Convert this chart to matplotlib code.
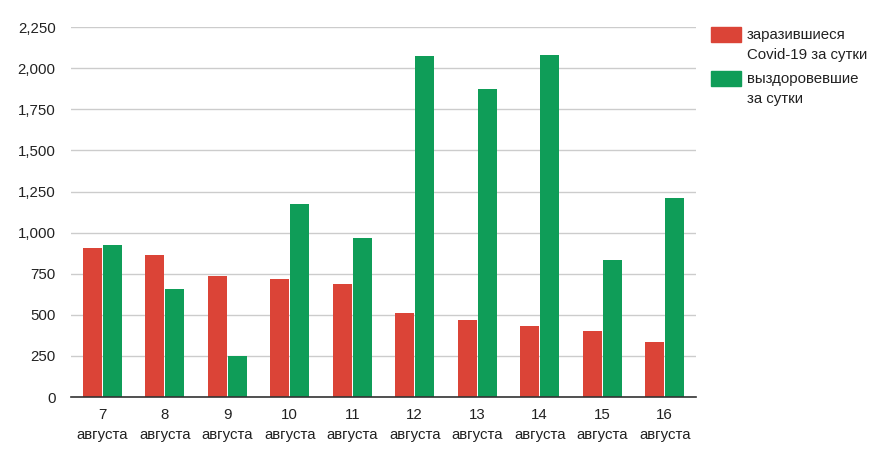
import matplotlib
matplotlib.use("Agg")
import matplotlib.pyplot as plt
from matplotlib.patches import Rectangle
from matplotlib.ticker import FuncFormatter
import numpy as np

plt.rcParams['font.family'] = ['Liberation Sans', 'DejaVu Sans']

days = ['7', '8', '9', '10', '11', '12', '13', '14', '15', '16']
infected = [904, 866, 738, 720, 689, 513, 470, 434, 403, 332]
recovered = [926, 659, 247, 1176, 969, 2076, 1875, 2082, 835, 1212]
series_names = ['заразившиеся\nCovid-19 за сутки', 'выздоровевшие\nза сутки']
colors = ['#db4437', '#0f9d58']

fig = plt.figure(figsize=(8.74, 4.59), dpi=100)
ax = fig.add_axes([0.0812, 0.135, 0.7151, 0.806])

x = np.arange(len(days))
w = 0.305
ax.bar(x - w / 2 - 0.008, infected, w, color=colors[0], zorder=3)
ax.bar(x + w / 2 + 0.008, recovered, w, color=colors[1], zorder=3)

ax.set_xlim(-0.5, len(days) - 0.5)
ax.set_ylim(0, 2250)
ax.set_yticks(np.arange(0, 2251, 250))
ax.yaxis.set_major_formatter(FuncFormatter(lambda v, p: f'{int(v):,}'))
ax.set_xticks(x)
ax.set_xticklabels([d + '\nавгуста' for d in days], linespacing=1.55)

ax.grid(axis='y', color='#cccccc', linewidth=1, zorder=0)
for s in ['top', 'right', 'left']:
    ax.spines[s].set_visible(False)
ax.spines['bottom'].set_color('#333333')
ax.spines['bottom'].set_linewidth(1.2)
ax.spines['bottom'].set_zorder(4)
ax.tick_params(axis='both', length=0, labelsize=10.8, labelcolor='#222222')
ax.tick_params(axis='y', pad=11)
ax.tick_params(axis='x', pad=8)

# legend
top = [27, 71]
for i, name in enumerate(series_names):
    y0 = 1 - (top[i] + 15) / 459
    fig.add_artist(Rectangle((711 / 874, y0), 30 / 874, 15 / 459,
                             transform=fig.transFigure, color=colors[i]))
    fig.text(747 / 874, 1 - (top[i] + 1) / 459, name, fontsize=10.8,
             color='#222222', va='top', ha='left', linespacing=1.55)

fig.savefig('out.png', dpi=100)
